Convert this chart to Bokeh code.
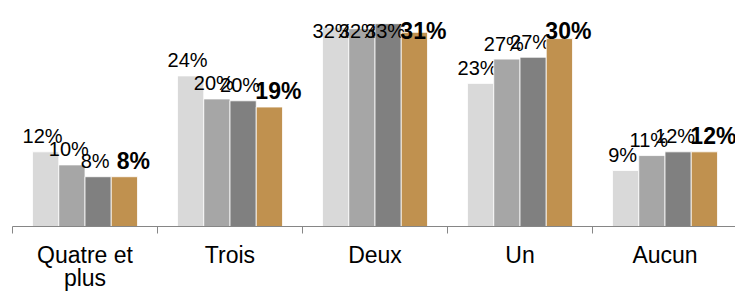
import numpy as np
from bokeh.plotting import figure
from bokeh.models import ColumnDataSource, FixedTicker, Range1d
from bokeh.core.properties import value
from bokeh.embed import file_html
from bokeh.resources import INLINE

categories = ["Quatre et\nplus", "Trois", "Deux", "Un", "Aucun"]
series_a = [12.0, 24.2, 32.0, 23.0, 9.0]
series_b = [9.9, 20.5, 31.8, 26.9, 11.4]
series_c = [8.0, 20.2, 32.6, 27.2, 12.0]
series_d = [8.0, 19.2, 31.2, 30.2, 12.0]
labels_a = ["12%", "24%", "32%", "23%", "9%"]
labels_b = ["10%", "20%", "32%", "27%", "11%"]
labels_c = ["8%", "20%", "33%", "27%", "12%"]
labels_d = ["8%", "19%", "31%", "30%", "12%"]

colors = ["#D9D9D9", "#A6A6A6", "#808080", "#C0914F"]
all_series = [series_a, series_b, series_c, series_d]
all_labels = [labels_a, labels_b, labels_c, labels_d]

PX_PER_CAT = 145.0
PX_PER_UNIT = 6.25
W, H = 735, 293
LEFT = 12
FRAME_W = W - LEFT
AXIS_Y = 227          # target pixel row of the category axis
Y_MAX = AXIS_Y / PX_PER_UNIT
LABEL_CAP = (AXIS_Y - 31) / PX_PER_UNIT
bar_w = 0.181

p = figure(width=W, height=H, output_backend="svg", toolbar_location=None,
           x_range=Range1d(0, FRAME_W / PX_PER_CAT), y_range=Range1d(0, Y_MAX),
           min_border_left=LEFT, min_border_right=0, min_border_top=0,
           min_border_bottom=H - AXIS_Y)
p.outline_line_color = None
p.xgrid.visible = False
p.ygrid.visible = False
p.yaxis.visible = False
p.background_fill_color = "white"

idx = np.arange(len(categories))
for j, (vals, labs) in enumerate(zip(all_series, all_labels)):
    xs = idx + 0.5 + (j - 1.5) * bar_w
    vals = np.array(vals)
    src = ColumnDataSource(dict(x=xs, top=vals,
                                ly=np.minimum(vals + 2.5, LABEL_CAP), lab=labs))
    p.vbar(x="x", top="top", bottom=0, width=bar_w, source=src,
           fill_color=colors[j], line_color="white", line_width=0.8)
    bold = j == 3
    p.text(x="x", y="ly", text="lab", source=src,
           text_font=value("Liberation Sans"),
           text_font_size="23px" if bold else "20px",
           text_font_style="bold" if bold else "normal",
           text_align="center", text_baseline="alphabetic",
           x_offset=9 if bold else -3, text_color="black")

ax = p.xaxis[0]
ax.ticker = FixedTicker(ticks=list(idx + 0.5), minor_ticks=list(range(len(categories) + 1)))
ax.major_label_overrides = {float(i + 0.5): c for i, c in enumerate(categories)}
ax.major_tick_out = 0
ax.major_tick_in = 0
ax.minor_tick_out = 7
ax.minor_tick_in = 0
ax.minor_tick_line_color = "#868686"
ax.axis_line_color = "#868686"
ax.axis_line_width = 1
ax.major_label_text_font = "Liberation Sans"
ax.major_label_text_font_size = "23px"
ax.major_label_text_color = "black"
ax.major_label_text_line_height = 0.9
ax.major_label_standoff = 8

open("out.html", "w").write(file_html(p, INLINE))
